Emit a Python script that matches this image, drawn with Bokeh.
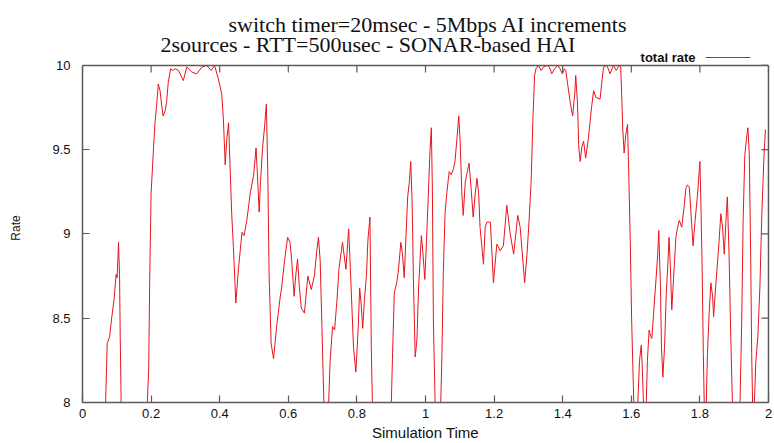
import math
from bokeh.plotting import figure
from bokeh.models import Range1d, FixedTicker, Label, Arrow, Span, LinearAxis
from bokeh.embed import file_html
from bokeh.resources import INLINE

# Simulation trace: total rate of the two sources over time
time = [0.0, 0.04, 0.066, 0.072, 0.079, 0.085, 0.092, 0.098, 0.101, 0.105, 0.108, 0.110,
        0.114, 0.15, 0.185, 0.193, 0.196, 0.200, 0.206, 0.211, 0.216, 0.221, 0.226, 0.231,
        0.235, 0.241, 0.245, 0.250, 0.257, 0.263, 0.270, 0.280, 0.294, 0.304, 0.319, 0.333,
        0.348, 0.362, 0.375, 0.385, 0.396, 0.406, 0.411, 0.416, 0.421, 0.426, 0.430, 0.435,
        0.440, 0.447, 0.455, 0.465, 0.471, 0.479, 0.489, 0.499, 0.506, 0.511, 0.515, 0.519,
        0.525, 0.531, 0.536, 0.540, 0.544, 0.550, 0.557, 0.566, 0.576, 0.581, 0.589, 0.598,
        0.605, 0.610, 0.617, 0.622, 0.627, 0.632, 0.638, 0.647, 0.657, 0.667, 0.676, 0.683,
        0.688, 0.693, 0.698, 0.705, 0.710, 0.716, 0.722, 0.729, 0.735, 0.742, 0.748, 0.758,
        0.768, 0.776, 0.783, 0.790, 0.797, 0.804, 0.808, 0.813, 0.817, 0.822, 0.828, 0.832,
        0.838, 0.842, 0.847, 0.870, 0.898, 0.904, 0.909, 0.916, 0.921, 0.928, 0.933, 0.938,
        0.943, 0.948, 0.953, 0.957, 0.961, 0.965, 0.970, 0.975, 0.980, 0.984, 0.988, 0.992,
        0.998, 1.003, 1.008, 1.013, 1.017, 1.020, 1.023, 1.030, 1.036, 1.042, 1.048, 1.052,
        1.057, 1.062, 1.069, 1.075, 1.082, 1.086, 1.091, 1.097, 1.101, 1.106, 1.110, 1.116,
        1.122, 1.127, 1.133, 1.139, 1.145, 1.150, 1.155, 1.159, 1.164, 1.169, 1.174, 1.179,
        1.189, 1.194, 1.198, 1.208, 1.218, 1.227, 1.237, 1.247, 1.257, 1.269, 1.276, 1.289,
        1.296, 1.302, 1.308, 1.313, 1.318, 1.322, 1.329, 1.337, 1.344, 1.354, 1.361, 1.368,
        1.376, 1.386, 1.392, 1.399, 1.405, 1.409, 1.415, 1.422, 1.429, 1.435, 1.438, 1.443,
        1.447, 1.451, 1.456, 1.461, 1.467, 1.475, 1.483, 1.490, 1.497, 1.509, 1.514, 1.519,
        1.529, 1.538, 1.548, 1.556, 1.565, 1.569, 1.572, 1.575, 1.579, 1.584, 1.589, 1.592,
        1.597, 1.601, 1.606, 1.610, 1.613, 1.617, 1.624, 1.629, 1.632, 1.637, 1.640, 1.643,
        1.647, 1.652, 1.657, 1.660, 1.665, 1.672, 1.677, 1.680, 1.685, 1.688, 1.692, 1.697,
        1.702, 1.707, 1.710, 1.714, 1.718, 1.723, 1.730, 1.735, 1.740, 1.747, 1.754, 1.759,
        1.763, 1.769, 1.773, 1.780, 1.786, 1.793, 1.800, 1.803, 1.806, 1.810, 1.813, 1.815,
        1.818, 1.822, 1.827, 1.832, 1.837, 1.840, 1.846, 1.854, 1.861, 1.866, 1.871, 1.876,
        1.880, 1.885, 1.890, 1.896, 1.906, 1.916, 1.922, 1.926, 1.931, 1.936, 1.940, 1.944,
        1.948, 1.951, 1.954, 1.956, 1.958, 1.963, 1.969, 1.975, 1.980, 1.984, 1.987, 1.991]

rate = [7.2, 7.5, 7.9, 8.35, 8.39, 8.50, 8.61, 8.76, 8.74, 8.95, 8.76, 8.39,
        7.8, 7.3, 7.8, 8.2, 8.73, 9.24, 9.47, 9.65, 9.76, 9.89, 9.85, 9.76,
        9.70, 9.73, 9.78, 9.90, 9.98, 9.97, 9.98, 9.97, 9.91, 9.99, 9.96, 9.95,
        9.99, 10.0, 9.97, 10.0, 9.92, 9.83, 9.67, 9.41, 9.57, 9.66, 9.41, 9.12,
        8.92, 8.59, 8.80, 9.01, 8.99, 9.08, 9.24, 9.35, 9.51, 9.31, 9.13, 9.31,
        9.51, 9.64, 9.77, 9.39, 8.76, 8.35, 8.26, 8.45, 8.62, 8.69, 8.84, 8.98,
        8.95, 8.84, 8.63, 8.76, 8.85, 8.69, 8.56, 8.53, 8.75, 8.67, 8.75, 8.90,
        8.98, 8.84, 8.45, 7.9, 7.7, 7.9, 8.25, 8.45, 8.43, 8.61, 8.80, 8.95,
        8.79, 9.03, 8.69, 8.33, 8.18, 8.45, 8.68, 8.57, 8.44, 8.61, 8.76, 8.96,
        9.10, 8.33, 7.8, 7.4, 7.8, 8.29, 8.65, 8.71, 8.78, 8.95, 8.88, 8.74,
        8.98, 9.22, 9.31, 9.43, 9.19, 8.71, 8.27, 8.37, 8.69, 8.84, 8.99, 8.90,
        8.73, 8.96, 9.22, 9.49, 9.63, 9.27, 8.49, 7.8, 7.6, 7.8, 8.29, 8.78,
        9.12, 9.24, 9.37, 9.35, 9.39, 9.43, 9.55, 9.70, 9.55, 9.24, 9.11, 9.31,
        9.37, 9.42, 9.27, 9.10, 9.24, 9.33, 9.24, 9.04, 8.93, 8.82, 9.04, 9.07,
        9.07, 8.88, 8.71, 8.94, 8.90, 8.93, 9.17, 9.00, 8.88, 9.11, 9.04, 8.71,
        8.88, 9.08, 9.31, 9.67, 9.94, 9.98, 10.0, 9.97, 9.99, 10.0, 9.99, 9.95,
        9.98, 10.0, 9.98, 9.95, 9.98, 9.97, 9.88, 9.78, 9.70, 9.83, 9.94, 9.78,
        9.51, 9.43, 9.52, 9.55, 9.45, 9.57, 9.73, 9.85, 9.81, 9.80, 9.90, 9.99,
        10.0, 9.95, 10.0, 9.97, 10.0, 9.99, 9.82, 9.63, 9.48, 9.59, 9.65, 9.41,
        8.96, 8.49, 8.10, 7.8, 7.7, 7.9, 8.25, 8.34, 8.21, 7.9, 7.8, 7.95,
        8.25, 8.43, 8.39, 8.38, 8.53, 8.73, 8.88, 9.02, 8.69, 8.33, 8.15, 8.33,
        8.65, 8.84, 8.98, 8.80, 8.55, 8.73, 8.98, 9.04, 9.08, 9.04, 9.16, 9.27,
        9.29, 9.28, 9.16, 8.93, 9.08, 9.23, 9.43, 9.18, 8.86, 8.29, 7.95, 7.8,
        7.95, 8.29, 8.53, 8.71, 8.63, 8.51, 8.69, 8.90, 9.12, 9.04, 8.88, 9.08,
        9.22, 8.88, 8.39, 7.9, 7.6, 7.9, 8.49, 9.08, 9.47, 9.57, 9.63, 9.47,
        8.88, 8.29, 7.95, 7.85, 7.95, 8.24, 8.39, 8.69, 9.08, 9.31, 9.47, 9.62]

x_ticks = [0, 0.2, 0.4, 0.6, 0.8, 1.0, 1.2, 1.4, 1.6, 1.8, 2.0]
x_tick_labels = ["0", "0.2", "0.4", "0.6", "0.8", "1", "1.2", "1.4", "1.6", "1.8", "2"]
y_ticks = [8, 8.5, 9, 9.5, 10]
y_tick_labels = ["8", "8.5", "9", "9.5", "10"]

title_lines = ["switch timer=20msec - 5Mbps AI increments",
               "2sources - RTT=500usec - SONAR-based HAI"]
series_name = "total rate"

AXIS_COLOR = "#5a5a5a"
LINE_COLOR = "#e8141c"
SANS = "Liberation Sans"
SERIF = "Liberation Serif"

WIDTH, HEIGHT = 774, 443
BORDER_TOP, BORDER_BOTTOM = 53, 38
FRAME_H = HEIGHT - BORDER_TOP - BORDER_BOTTOM
KEY_BAND = 12                      # free band between the box top and the frame top
BOX_H = FRAME_H - KEY_BAND
X_MIN, X_MAX = x_ticks[0], x_ticks[-1]
Y_MIN, Y_MAX = y_ticks[0], y_ticks[-1]
PX = (Y_MAX - Y_MIN) / BOX_H       # data units per pixel, vertically


def above_box(px):
    """Vertical position px pixels above the top edge of the box."""
    return Y_MAX + px * PX


p = figure(width=WIDTH, height=HEIGHT, output_backend="svg", toolbar_location=None,
           title=None,
           x_range=Range1d(X_MIN, X_MAX), y_range=Range1d(Y_MIN, above_box(KEY_BAND)),
           min_border_left=82, min_border_right=6,
           min_border_top=BORDER_TOP, min_border_bottom=BORDER_BOTTOM,
           x_axis_label="Simulation Time", y_axis_label="Rate")
p.grid.visible = False
p.background_fill_color = "white"
p.border_fill_color = "white"
p.outline_line_color = None

p.line(time, rate, line_color=LINE_COLOR, line_width=1)

xaxis = p.xaxis[0]
yaxis = p.yaxis[0]
xaxis.ticker = FixedTicker(ticks=x_ticks)
xaxis.major_label_overrides = dict(zip(x_ticks, x_tick_labels))
yaxis.ticker = FixedTicker(ticks=y_ticks)
yaxis.major_label_overrides = dict(zip(y_ticks, y_tick_labels))
yaxis.bounds = (Y_MIN, Y_MAX)
for ax in (xaxis, yaxis):
    ax.axis_line_color = AXIS_COLOR
    ax.axis_line_width = 1.5
    ax.major_tick_line_color = AXIS_COLOR
    ax.major_tick_line_width = 1.2
    ax.major_tick_in = 7
    ax.major_tick_out = 0
    ax.minor_tick_line_color = None
    ax.major_label_text_font = SANS
    ax.major_label_text_font_size = "13px"
    ax.major_label_text_color = "#111111"
xaxis.major_label_standoff = 6
yaxis.major_label_standoff = 12
xaxis.axis_label_text_font = SANS
xaxis.axis_label_text_font_size = "15px"
xaxis.axis_label_text_font_style = "normal"
xaxis.axis_label_text_color = "#111111"
xaxis.axis_label_standoff = 3
yaxis.axis_label_text_font = SANS
yaxis.axis_label_text_font_size = "12px"
yaxis.axis_label_text_font_style = "normal"
yaxis.axis_label_text_color = "#111111"
yaxis.axis_label_standoff = 26

# right edge of the box: a bare axis line
right_edge = LinearAxis(ticker=FixedTicker(ticks=[]), bounds=(Y_MIN, Y_MAX),
                        axis_line_color=AXIS_COLOR, axis_line_width=1.5,
                        major_tick_line_color=None, minor_tick_line_color=None)
p.add_layout(right_edge, "right")

# top edge of the box
p.add_layout(Span(location=Y_MAX, dimension="width", line_color=AXIS_COLOR, line_width=1.5))

# mirrored inward tick marks on the top and right edges
p.ray(x=x_ticks, y=[Y_MAX] * len(x_ticks), length=7, length_units="screen",
      angle=-math.pi / 2, line_color=AXIS_COLOR, line_width=1.2)
p.ray(x=[X_MAX] * len(y_ticks), y=y_ticks, length=7, length_units="screen",
      angle=math.pi, line_color=AXIS_COLOR, line_width=1.2)

# key: series name followed by a line sample, just above the box
KEY_Y = BOX_H + 5
p.add_layout(Label(x=613, y=KEY_Y, x_units="screen", y_units="screen", text=series_name,
                   text_font=SANS, text_font_size="13px", text_font_style="bold",
                   text_color="#111111", text_align="right", text_baseline="middle"))
p.add_layout(Arrow(x_start=623, y_start=KEY_Y, x_end=668, y_end=KEY_Y,
                   start_units="screen", end_units="screen", start=None, end=None,
                   line_color=LINE_COLOR, line_width=1))


# title lines sit in the top panel so they are not clipped;
# x is measured in pixels from the frame's left edge
def top_text(x, px_up, text):
    p.add_layout(Label(x=x, y=above_box(px_up), x_units="screen", y_units="data",
                       text=text, text_font=SERIF, text_font_size="22px",
                       text_color="#111111", text_align="left",
                       text_baseline="alphabetic"),
                 "above")


top_text(146, 41, title_lines[0])
top_text(78, 21, title_lines[1])

open("out.html", "w").write(file_html(p, INLINE))
